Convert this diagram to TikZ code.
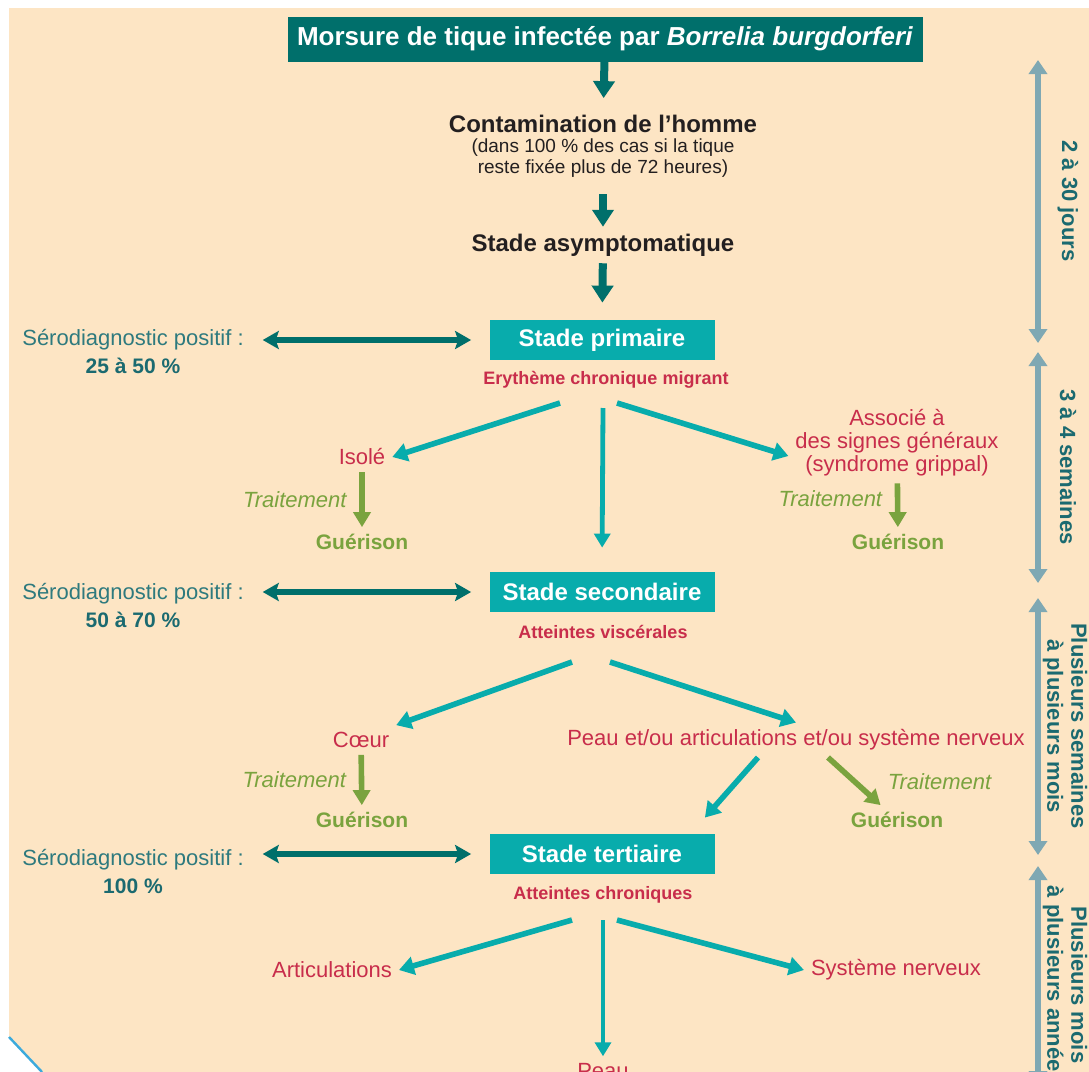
\documentclass[tikz,border=0pt]{standalone}
\usepackage{fontspec}
\setmainfont{Liberation Sans}
\definecolor{peach}{RGB}{253,229,196}
\definecolor{deepteal}{RGB}{0,111,107}
\definecolor{stagecyan}{RGB}{8,172,172}
\definecolor{crimson}{RGB}{200,45,75}
\definecolor{leaf}{RGB}{122,163,62}
\definecolor{serotext}{RGB}{46,122,126}
\definecolor{spanline}{RGB}{127,168,179}
\definecolor{spantext}{RGB}{27,106,112}
\definecolor{ink}{RGB}{35,31,32}
\definecolor{edgeblue}{RGB}{60,170,220}
\usetikzlibrary{arrows.meta, positioning, calc}

\begin{document}
\begin{tikzpicture}[
    x=0.5pt, y=-0.5pt,
    headbox/.style={fill=deepteal, text=white, font=\bfseries\fontsize{13}{15}\selectfont,
                    minimum width=317.5pt, minimum height=22.5pt, inner sep=0pt},
    stagebox/.style={fill=stagecyan, text=white, font=\bfseries\fontsize{12}{14}\selectfont,
                     minimum width=112.5pt, minimum height=20pt, inner sep=0pt},
    phasetext/.style={text=ink, font=\bfseries\fontsize{12}{14}\selectfont},
    notetext/.style={text=ink, align=center, font=\fontsize{9.5}{10.5}\selectfont},
    lesion/.style={text=crimson, font=\bfseries\fontsize{9}{11}\selectfont},
    organ/.style={text=crimson, align=center, font=\fontsize{11}{11.5}\selectfont},
    curetext/.style={text=leaf, font=\bfseries\fontsize{10.5}{12}\selectfont},
    treat/.style={text=leaf, font=\itshape\fontsize{11}{13}\selectfont},
    sero/.style={text=serotext, align=center, font=\fontsize{11}{14}\selectfont},
    spanlabel/.style={text=spantext, rotate=-90, align=center, font=\bfseries\fontsize{11}{12}\selectfont},
    downarrow/.style={-{Triangle[width=10.5pt,length=8.5pt]}, line width=4pt, deepteal},
    brancharrow/.style={-{Triangle[width=9pt,length=7.5pt]}, line width=2.8pt, stagecyan},
    midstem/.style={-{Triangle[width=8pt,length=7pt]}, line width=2.4pt, stagecyan},
    heal/.style={-{Triangle[width=8.5pt,length=7.5pt]}, line width=2.8pt, leaf},
    seroarrow/.style={{Stealth[width=9pt,length=8pt,inset=1.5pt]}-{Stealth[width=9pt,length=8pt,inset=1.5pt]}, line width=3pt, deepteal},
    spanarrow/.style={{Triangle[width=9pt,length=7pt]}-{Triangle[width=9pt,length=7pt]}, line width=3pt, spanline}
]
    \useasboundingbox (0,0) rectangle (1089,1072);
    \fill[peach] (9,8) rectangle (1089,1072);
    \fill[white] (9,1037) -- (42,1072) -- (9,1072) -- cycle;
    \draw[edgeblue, line width=1.2pt] (9,1037) -- (42,1072);

    % Nodes
    \node[headbox] (bite) at (605,39) {Morsure de tique infectée par \textit{Borrelia burgdorferi}};
    \node[phasetext] (contam) at (603,124) {Contamination de l'homme};
    \node[notetext] (contamnote) at (603,158) {(dans 100 \% des cas si la tique\\reste fixée plus de 72 heures)};
    \node[phasetext] (asympto) at (603,245) {Stade asymptomatique};

    \node[stagebox] (primaire) at (602,340) {Stade primaire};
    \node[lesion] (ecm) at (606,380) {Erythème chronique migrant};
    \node[sero] (sero1) at (133,351) {Sérodiagnostic positif :\\{\color{spantext}\bfseries\fontsize{10.5}{14}\selectfont 25 à 50 \%}};
    \node[organ] (isole) at (362,457) {Isolé};
    \node[organ] (associe) at (897,443) {Associé à\\des signes généraux\\(syndrome grippal)};
    \node[curetext] (gueri1) at (362,542) {Guérison};
    \node[curetext] (gueri2) at (898,542) {Guérison};

    \node[stagebox] (secondaire) at (602,592) {Stade secondaire};
    \node[lesion] (viscerales) at (603,632) {Atteintes viscérales};
    \node[sero] (sero2) at (133,605) {Sérodiagnostic positif :\\{\color{spantext}\bfseries\fontsize{10.5}{14}\selectfont 50 à 70 \%}};
    \node[organ] (coeur) at (361,740) {Cœur};
    \node[organ] (peau) at (796,740) {Peau et/ou articulations et/ou système nerveux};
    \node[curetext] (gueri3) at (362,820) {Guérison};
    \node[curetext] (gueri4) at (897,820) {Guérison};

    \node[stagebox] (tertiaire) at (602,854) {Stade tertiaire};
    \node[lesion] (chroniques) at (603,895) {Atteintes chroniques};
    \node[sero] (sero3) at (133,871) {Sérodiagnostic positif :\\{\color{spantext}\bfseries\fontsize{10.5}{14}\selectfont 100 \%}};
    \node[organ] (artic) at (332,970) {Articulations};
    \node[organ] (systeme) at (896,970) {Système nerveux};
    \node[organ] (peau3) at (603,1071) {Peau};

    % Time scale
    \coordinate (t0) at (1038,60);
    \coordinate (t1) at (1038,343);
    \coordinate (t1b) at (1038,352);
    \coordinate (t2) at (1038,583);
    \coordinate (t2b) at (1038,598);
    \coordinate (t3) at (1038,855);
    \coordinate (t3b) at (1038,866);
    \coordinate (t4) at (1038,1085);
    \node[spanlabel] (span1) at (1068,201) {2 à 30 jours};
    \node[spanlabel] (span2) at (1068,467) {3 à 4 semaines};
    \node[spanlabel] (span3) at (1065,726) {Plusieurs semaines\\à plusieurs mois};
    \node[spanlabel] (span4) at (1065,985) {Plusieurs mois\\à plusieurs années};

    % Arrows
    \draw[downarrow, shorten >=5pt] (bite) -- (contam);
    \draw[downarrow, shorten <=5pt] (contamnote) -- (asympto);
    \draw[downarrow, shorten >=8.5pt] (asympto) -- (primaire);

    \draw[seroarrow, shorten <=6pt, shorten >=9pt] (sero1.east |- primaire) -- (primaire);
    \draw[seroarrow, shorten <=6pt, shorten >=9pt] (sero2.east |- secondaire) -- (secondaire);
    \draw[seroarrow, shorten <=6pt, shorten >=9pt] (sero3.east |- tertiaire) -- (tertiaire);

    \draw[brancharrow] ($(ecm)+(-46,23)$) -- (isole.east);
    \draw[midstem, shorten >=12pt] ($(ecm)+(-3,28)$) -- (secondaire.north);
    \draw[brancharrow] ($(ecm)+(11,23)$) -- ($(associe.west)+(0,13)$);
    \draw[heal] (isole) -- node[treat, left=3pt] {Traitement} (gueri1);
    \draw[heal] (associe) -- node[treat, pos=0.35, left=3pt] {Traitement} (gueri2);

    \draw[brancharrow] ($(viscerales)+(-31,30)$) -- (coeur.north east);
    \draw[brancharrow] ($(viscerales)+(7,30)$) -- (peau.north);
    \draw[heal] (coeur) -- node[treat, left=3pt] {Traitement} (gueri3);
    \draw[brancharrow] ($(peau.south)+(-38,0)$) -- ($(tertiaire.north east)+(-10,-16)$);
    \draw[heal] ($(peau.south)+(32,0)$) -- node[treat, right=12pt] {Traitement} (gueri4);

    \draw[brancharrow] ($(chroniques)+(-31,25)$) -- (artic.east);
    \draw[midstem] ($(chroniques)+(0,25)$) -- (peau3.north);
    \draw[brancharrow] ($(chroniques)+(14,25)$) -- (systeme.west);

    \draw[spanarrow] (t0) -- (t1);
    \draw[spanarrow] (t1b) -- (t2);
    \draw[spanarrow] (t2b) -- (t3);
    \draw[spanarrow] (t3b) -- (t4);
\end{tikzpicture}
\end{document}
